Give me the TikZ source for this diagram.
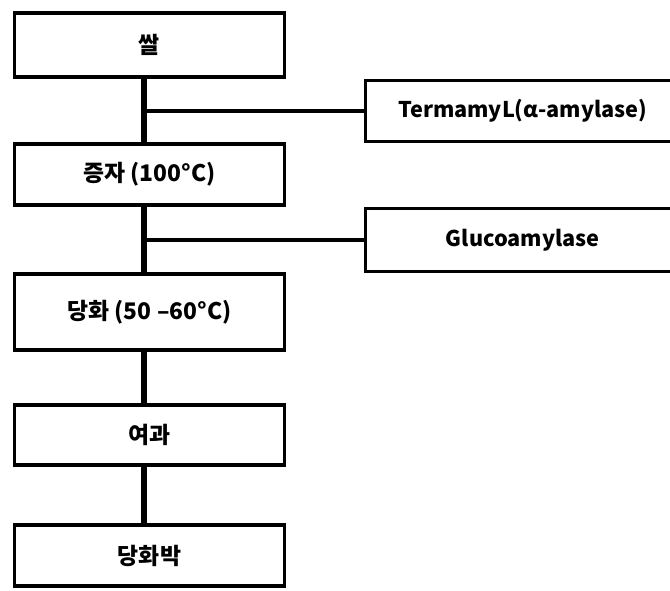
\documentclass[tikz,border=0pt]{standalone}
\usepackage{fontspec}
\setmainfont{Noto Sans CJK KR}
\usepackage{tikz}
\usetikzlibrary{positioning}

\begin{document}
\begin{tikzpicture}[x=0.3cm, y=0.3cm,
  every node/.style={font=\fontsize{18.5}{20}\selectfont\bfseries},
  stepbox/.style={rectangle,draw,line width=3.4pt,minimum width=8.1cm,inner sep=0pt,
    font=\fontsize{19.5}{21}\selectfont\bfseries},
  enzbox/.style={rectangle,draw,line width=2.6pt,minimum width=9.44cm,inner sep=0pt},
  trunk/.style={line width=4.3pt},
  branch/.style={line width=2.6pt}]

\clip (0,0) rectangle (67,59);

% Process steps
\node[stepbox,minimum height=1.92cm] at (14.95,54.5) (rice) {쌀};
\node[stepbox,minimum height=1.83cm] at (14.95,41.55) (steam) {증자 (100°C)};
\node[stepbox,minimum height=2.28cm] at (14.95,27.8) (sacch) {당화 (50 –60°C)};
\node[stepbox,minimum height=1.8cm] at (14.95,15.5) (filt) {여과};
\node[stepbox,minimum height=1.83cm] at (14.95,3.45) (juice) {당화박};

% Enzymes
\node[enzbox,minimum height=1.83cm] at (52.275,47.9) (termamyl) {TermamyL(α-amylase)};
\node[enzbox,minimum height=1.89cm] at (52.275,35.0) (gluco) {Glucoamylase};

% Junctions on the trunk
\coordinate (j1) at (14.4,47.9);
\coordinate (j2) at (14.4,35.0);

% Trunk
\draw[trunk] (rice.south -| j1) -- (steam.north -| j1);
\draw[trunk] (steam.south -| j1) -- (sacch.north -| j1);
\draw[trunk] (sacch.south -| j1) -- (filt.north -| j1);
\draw[trunk] (filt.south -| j1) -- (juice.north -| j1);

% Enzyme branches
\draw[branch] (j1) -- (termamyl.west);
\draw[branch] (j2) -- (gluco.west);

\end{tikzpicture}
\end{document}
